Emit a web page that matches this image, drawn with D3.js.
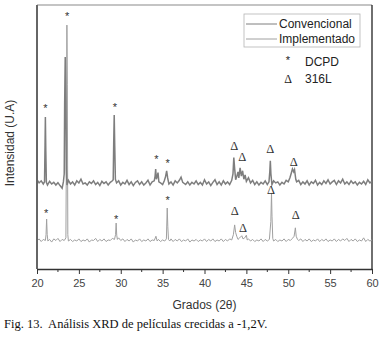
<!DOCTYPE html>
<html>
<head>
<meta charset="utf-8">
<script src="https://cdn.jsdelivr.net/npm/d3@7"></script>
<style>
  body { margin: 0; background: #fff; }
  svg text { font-family: "Liberation Sans", Arial, sans-serif; }
</style>
</head>
<body>
<div id="xrd"></div>
<script>
// series: [grados 2theta, intensidad (u.a., con offset)]
var convencional = [[20.0,338],[20.25,326],[20.5,334],[20.75,322],[20.9,330],[20.96,470],[21.0,576],[21.05,450],[21.12,328],[21.25,318],[21.5,332],[21.75,322],[22.0,328],[22.25,318],[22.5,327],[22.75,316],[23.0,306],[23.15,330],[23.25,360],[23.3,620],[23.37,803],[23.44,640],[23.5,380],[23.58,318],[23.75,336],[24.0,322],[24.25,330],[24.5,318],[24.75,334],[25.0,326],[25.25,340],[25.5,322],[25.75,326],[26.0,318],[26.25,330],[26.5,324],[26.75,334],[27.0,320],[27.25,328],[27.5,316],[27.75,332],[28.0,324],[28.25,330],[28.5,318],[28.75,328],[29.0,334],[29.1,338],[29.16,480],[29.22,583],[29.28,470],[29.36,340],[29.5,326],[29.75,334],[30.0,318],[30.25,328],[30.5,322],[30.75,336],[31.0,320],[31.25,330],[31.5,316],[31.75,328],[32.0,334],[32.25,320],[32.5,330],[32.75,318],[33.0,326],[33.25,336],[33.5,318],[33.75,330],[34.0,334],[34.1,352],[34.17,379],[34.25,340],[34.35,350],[34.45,365],[34.55,330],[34.75,326],[35.0,320],[35.2,334],[35.35,350],[35.48,372],[35.6,345],[35.75,322],[36.0,330],[36.25,318],[36.5,334],[36.75,326],[37.0,336],[37.2,348],[37.4,328],[37.75,320],[38.0,330],[38.25,318],[38.5,328],[38.75,322],[39.0,334],[39.25,320],[39.5,328],[39.75,318],[40.0,338],[40.25,322],[40.5,330],[40.75,316],[41.0,328],[41.25,338],[41.5,320],[41.75,330],[42.0,318],[42.25,334],[42.5,322],[42.75,330],[43.0,320],[43.25,336],[43.4,360],[43.5,422],[43.6,380],[43.72,338],[43.85,350],[44.0,368],[44.1,345],[44.25,383],[44.4,352],[44.55,372],[44.7,340],[44.85,356],[45.0,332],[45.25,346],[45.5,326],[45.75,336],[46.0,320],[46.25,330],[46.5,318],[46.75,328],[47.0,322],[47.25,334],[47.5,320],[47.7,330],[47.8,370],[47.86,410],[47.93,360],[48.05,320],[48.25,334],[48.5,326],[48.75,330],[49.0,318],[49.25,328],[49.5,322],[49.75,336],[50.0,330],[50.2,346],[50.35,362],[50.5,379],[50.65,368],[50.75,376],[50.9,340],[51.0,330],[51.25,336],[51.5,320],[51.75,330],[52.0,322],[52.25,334],[52.5,318],[52.75,330],[53.0,324],[53.25,336],[53.5,318],[53.75,328],[54.0,320],[54.25,334],[54.5,324],[54.75,338],[55.0,322],[55.25,330],[55.5,336],[55.75,320],[56.0,334],[56.25,326],[56.5,340],[56.75,322],[57.0,330],[57.25,320],[57.5,334],[57.75,324],[58.0,330],[58.25,318],[58.5,328],[58.75,322],[59.0,332],[59.25,320],[59.5,338],[59.75,326],[60.0,332]];

var implementado = [[20.0,106],[20.25,114],[20.5,104],[20.75,112],[21.0,108],[21.08,130],[21.15,189],[21.22,130],[21.3,106],[21.5,112],[21.75,102],[22.0,114],[22.25,108],[22.5,116],[22.75,104],[23.0,112],[23.25,108],[23.45,118],[23.52,500],[23.57,924],[23.62,700],[23.68,130],[23.75,106],[24.0,112],[24.25,104],[24.5,110],[24.75,106],[25.0,114],[25.25,104],[25.5,110],[25.75,106],[26.0,114],[26.25,102],[26.5,110],[26.75,108],[27.0,116],[27.25,104],[27.5,112],[27.75,106],[28.0,114],[28.25,104],[28.5,110],[28.75,108],[29.0,116],[29.25,112],[29.38,130],[29.45,174],[29.52,128],[29.6,112],[29.75,118],[30.0,108],[30.25,114],[30.5,104],[30.75,112],[31.0,106],[31.25,114],[31.5,102],[31.75,110],[32.0,106],[32.25,114],[32.5,104],[32.75,110],[33.0,106],[33.25,114],[33.5,104],[33.75,110],[34.0,108],[34.2,124],[34.35,106],[34.5,112],[34.75,104],[35.0,110],[35.25,106],[35.45,114],[35.55,231],[35.62,160],[35.7,112],[35.85,106],[36.0,114],[36.25,104],[36.5,112],[36.75,106],[37.0,114],[37.25,104],[37.5,110],[37.75,106],[38.0,114],[38.25,102],[38.5,110],[38.75,106],[39.0,112],[39.25,104],[39.5,110],[39.75,106],[40.0,114],[40.25,104],[40.5,112],[40.75,106],[41.0,114],[41.25,104],[41.5,110],[41.75,106],[42.0,114],[42.25,104],[42.5,112],[42.75,106],[43.0,114],[43.25,110],[43.45,130],[43.6,167],[43.72,138],[43.85,124],[44.0,112],[44.2,118],[44.45,126],[44.6,114],[44.8,118],[45.0,128],[45.1,110],[45.25,114],[45.5,106],[45.75,112],[46.0,104],[46.25,110],[46.5,106],[46.75,114],[47.0,104],[47.25,112],[47.5,106],[47.75,112],[47.92,180],[48.0,288],[48.06,200],[48.15,116],[48.25,106],[48.5,112],[48.75,104],[49.0,110],[49.25,106],[49.5,114],[49.75,104],[50.0,112],[50.25,108],[50.5,116],[50.7,124],[50.85,156],[50.95,124],[51.1,112],[51.25,108],[51.5,114],[51.75,104],[52.0,112],[52.25,106],[52.5,114],[52.75,104],[53.0,110],[53.25,106],[53.5,114],[53.75,104],[54.0,112],[54.25,106],[54.5,114],[54.75,104],[55.0,110],[55.25,106],[55.5,114],[55.75,104],[56.0,112],[56.25,106],[56.5,114],[56.75,108],[57.0,116],[57.25,104],[57.5,112],[57.75,106],[58.0,114],[58.25,104],[58.5,110],[58.75,106],[59.0,118],[59.25,104],[59.5,112],[59.75,106],[60.0,110]];

// peak labels: [grados, intensidad]
var picosDCPD = [[21.0,617],[23.6,966],[29.3,621],[34.25,424],[35.6,409],[21.1,220],[29.45,197],[35.6,269]];
var picos316L = [[43.55,466],[44.5,428],[47.85,458],[50.65,409],[43.6,220],[44.6,159],[47.95,303],[50.9,205]];

var xTicks = [20, 25, 30, 35, 40, 45, 50, 55, 60];
var xMinor = [22.5, 27.5, 32.5, 37.5, 42.5, 47.5, 52.5, 57.5];
var series = ["Convencional", "Implementado"];

// set the dimensions and margins of the graph
var margin = { top: 5, right: 11, bottom: 68, left: 37 },
  width = 383 - margin.left - margin.right,
  height = 337 - margin.top - margin.bottom;

var root = d3.select("#xrd")
  .append("svg")
  .attr("width", 383)
  .attr("height", 337);

var svg = root.append("g")
  .attr("transform", "translate(" + margin.left + "," + margin.top + ")");

var x = d3.scaleLinear().domain([20, 60]).range([0, width]);
var y = d3.scaleLinear().domain([0, 1000]).range([height, 0]);

// frame: top + right
svg.append("line").attr("x1", 0).attr("x2", width).attr("y1", 0).attr("y2", 0)
  .attr("stroke", "#8a8a8a").attr("stroke-width", 1.2);
svg.append("line").attr("x1", width).attr("x2", width).attr("y1", 0).attr("y2", height)
  .attr("stroke", "#222").attr("stroke-width", 1.3);

var line = d3.line()
  .x(function (d) { return x(d[0]); })
  .y(function (d) { return y(d[1]); });

svg.append("path").datum(implementado)
  .attr("fill", "none").attr("stroke", "#a0a0a0").attr("stroke-width", 1)
  .attr("d", line);

svg.append("path").datum(convencional)
  .attr("fill", "none").attr("stroke", "#7e7e7e").attr("stroke-width", 1.5)
  .attr("d", line);

// left axis (no ticks)
svg.append("line").attr("x1", 0).attr("x2", 0).attr("y1", 0).attr("y2", height)
  .attr("stroke", "#666").attr("stroke-width", 2);

// bottom axis
var xAxis = svg.append("g")
  .attr("transform", "translate(0," + height + ")")
  .call(d3.axisBottom(x).tickValues(xTicks).tickSize(5).tickPadding(5).tickSizeOuter(0));
xAxis.select(".domain").attr("stroke", "#333").attr("stroke-width", 1.5);
xAxis.selectAll(".tick line").attr("stroke", "#333");
xAxis.selectAll("text").attr("fill", "#444").style("font-size", "11px");

svg.append("g").selectAll("line").data(xMinor).enter().append("line")
  .attr("x1", function (d) { return x(d); }).attr("x2", function (d) { return x(d); })
  .attr("y1", height).attr("y2", height + 3)
  .attr("stroke", "#333");

// peak markers
svg.append("g").selectAll("text").data(picosDCPD).enter().append("text")
  .attr("x", function (d) { return x(d[0]); })
  .attr("y", function (d) { return y(d[1]) + 6; })
  .attr("text-anchor", "middle")
  .style("font-size", "11px").attr("fill", "#333")
  .text("*");

svg.append("g").selectAll("text").data(picos316L).enter().append("text")
  .attr("x", function (d) { return x(d[0]); })
  .attr("y", function (d) { return y(d[1]) + 4.5; })
  .attr("text-anchor", "middle")
  .style("font-family", "'Liberation Serif', serif")
  .style("font-size", "12.5px").attr("fill", "#333")
  .text("\u0394");

// legend
var leg = root.append("g");
leg.append("rect").attr("x", 244).attr("y", 14).attr("width", 116).attr("height", 33)
  .attr("fill", "#fff").attr("stroke", "#b5b5b5").attr("stroke-width", 0.8);
leg.selectAll("line.l").data(series).enter().append("line")
  .attr("x1", 246).attr("x2", 277)
  .attr("y1", function (d, i) { return 24 + i * 15; })
  .attr("y2", function (d, i) { return 24 + i * 15; })
  .attr("stroke", function (d, i) { return i ? "#a0a0a0" : "#7e7e7e"; })
  .attr("stroke-width", 1);
leg.selectAll("text.l").data(series).enter().append("text")
  .attr("x", 279)
  .attr("y", function (d, i) { return 28 + i * 15; })
  .style("font-size", "12px").attr("fill", "#222")
  .text(function (d) { return d; });

leg.append("text").attr("x", 288).attr("y", 64).attr("text-anchor", "middle")
  .style("font-size", "11px").attr("fill", "#222").text("*");
leg.append("text").attr("x", 305).attr("y", 66).style("font-size", "12px").attr("fill", "#222").text("DCPD");
leg.append("text").attr("x", 288).attr("y", 83).attr("text-anchor", "middle")
  .style("font-family", "'Liberation Serif', serif")
  .style("font-size", "12px").attr("fill", "#222").text("\u0394");
leg.append("text").attr("x", 305).attr("y", 83).style("font-size", "12px").attr("fill", "#222").text("316L");

// axis titles
root.append("text")
  .attr("x", margin.left + width / 2).attr("y", 309)
  .attr("text-anchor", "middle")
  .style("font-size", "12px").attr("fill", "#333")
  .text("Grados (2\u03B8)");

root.append("text")
  .attr("transform", "translate(14,143) rotate(-90)")
  .attr("text-anchor", "middle")
  .style("font-size", "12px").attr("fill", "#333")
  .text("Intensidad (U.A)");

// caption
root.append("text")
  .attr("x", 4).attr("y", 328)
  .style("font-family", "'Liberation Serif', 'Times New Roman', serif")
  .style("font-size", "12.5px").attr("fill", "#111")
  .attr("xml:space", "preserve")
  .text("Fig. 13.  An\u00E1lisis XRD de pel\u00EDculas crecidas a -1,2V.");
</script>
</body>
</html>
